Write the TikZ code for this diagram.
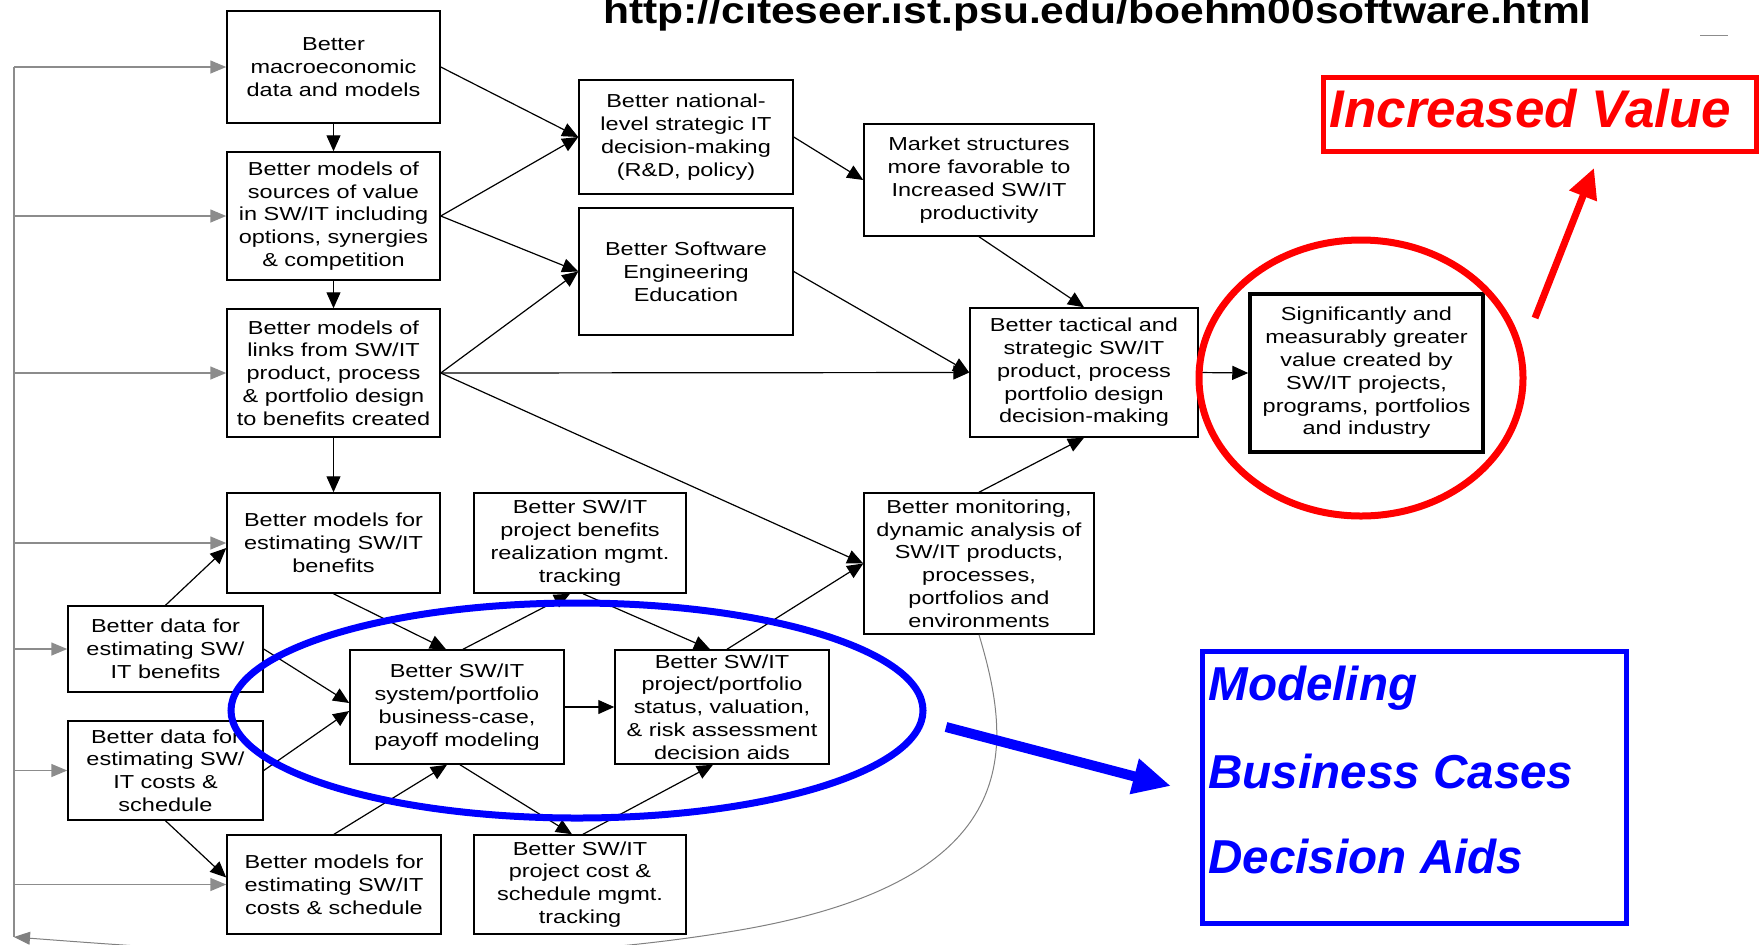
\documentclass[tikz,border=0pt]{standalone}
\usepackage{fontspec}
\usetikzlibrary{arrows.meta,calc,shapes.geometric}
\newfontfamily\boxfont[FakeStretch=1.25]{Liberation Sans}
\newfontfamily\urlfont[FakeStretch=1.15]{Liberation Sans}
\newfontfamily\callfont{Liberation Sans}

\begin{document}
\begin{tikzpicture}[x=0.5pt,y=-0.5pt,
  cell/.style 2 args={draw, line width=0.75pt, inner sep=0pt, align=center,
    minimum width=#1*0.5pt, minimum height=#2*0.5pt,
    font=\boxfont\fontsize{9.4pt}{11.4pt}\selectfont},
  arr/.style={line width=0.6pt, -{Triangle[length=8pt,width=7pt]}},
  fbline/.style={draw=black!45, line width=0.75pt},
  fbarrow/.style={fbline, -{Triangle[length=8pt,width=6.5pt]}},
  calltext/.style={anchor=base west, inner sep=0pt,
    font=\callfont\bfseries\itshape\fontsize{#1}{#1}\selectfont},
]
\useasboundingbox (0,0) rectangle (1760,944);
\clip (0,0) rectangle (1760,944);

% title
\node[anchor=base west, inner sep=0pt,
  font=\urlfont\bfseries\fontsize{18.5pt}{20pt}\selectfont] (url) at (603,23)
  {http://citeseer.ist.psu.edu/boehm00software.html};
\coordinate (mk1) at (1700,35);
\coordinate (mk2) at (1728,35);
\draw[black!45, line width=0.5pt] (mk1) -- (mk2);

% value-model boxes
\node[cell={213}{112}] (A) at (333.5,67) {Better\\macroeconomic\\data and models};
\node[cell={213}{128}] (B) at (333.5,216) {Better models of\\sources of value\\in SW/IT including\\options, synergies\\\& competition};
\node[cell={213}{128}] (C) at (333.5,373) {Better models of\\links from SW/IT\\product, process\\\& portfolio design\\to benefits created};
\node[cell={213}{100}] (D) at (333.5,543) {Better models for\\estimating SW/IT\\benefits};
\node[cell={195}{86}] (E) at (165.5,649) {Better data for\\estimating SW/\\IT benefits};
\node[cell={195}{99}] (F) at (165.5,770.5) {Better data for\\estimating SW/\\IT costs \&\\schedule};
\node[cell={214}{99}] (G) at (334,884.5) {Better models for\\estimating SW/IT\\costs \& schedule};
\node[cell={214}{114}] (H) at (457,707) {Better SW/IT\\system/portfolio\\business-case,\\payoff modeling};
\node[cell={212}{100}] (I) at (580,543) {Better SW/IT\\project benefits\\realization mgmt.\\tracking};
\node[cell={212}{99}] (J) at (580,884.5) {Better SW/IT\\project cost \&\\schedule mgmt.\\tracking};
\node[cell={214}{114}] (K) at (722,707) {Better SW/IT\\project/portfolio\\status, valuation,\\\& risk assessment\\decision aids};
\node[cell={214}{114}] (L) at (686,137) {Better national-\\level strategic IT\\decision-making\\(R\&D, policy)};
\node[cell={214}{127}] (M) at (686,271.5) {Better Software\\Engineering\\Education};
\node[cell={230}{112}] (N) at (979,180) {Market structures\\more favorable to\\Increased SW/IT\\productivity};
\node[cell={228}{129}] (O) at (1084,372.5) {Better tactical and\\strategic SW/IT\\product, process\\portfolio design\\decision-making};
\node[cell={230}{141}] (P) at (979,563.5) {Better monitoring,\\dynamic analysis of\\SW/IT products,\\processes,\\portfolios and\\environments};
\node[cell={233}{158}, line width=1.75pt] (Q) at (1366.5,373) {Significantly and\\measurably greater\\value created by\\SW/IT projects,\\programs, portfolios\\and industry};

% dependency links
\draw[arr] (A.south) -- (B.north);
\draw[arr] (B.south) -- (C.north);
\draw[arr] (C.south) -- (D.north);
\draw[arr] (A.east) -- (L.west);
\draw[arr] (B.east) -- (L.west);
\draw[arr] (B.east) -- (M.west);
\draw[arr] (C.east) -- (M.west);
\draw[arr] (C.east) -- (O.west);
\draw[arr] (C.east) -- (P.west);
\draw[arr] (M.east) -- (O.west);
\draw[arr] (L.east) -- (N.west);
\draw[arr] (N.south) -- (O.north);
\draw[arr] (P.north) -- (O.south);
\draw[arr] (O.east) -- (Q.west);
\draw[arr] (E.north) -- ($(D.west)+(0,5)$);
\draw[arr] (E.east) -- ($(H.west)+(0,-4)$);
\draw[arr] (F.east) -- ($(H.west)+(0,4)$);
\draw[arr] (F.south) -- ($(G.west)+(0,-7)$);
\draw[arr] (D.south) -- ($(H.north)+(-11,0)$);
\draw[arr] ($(H.north)+(6,0)$) -- ($(I.south)+(-10,0)$);
\draw[arr] ($(I.south)+(3,0)$) -- ($(K.north)+(-12,0)$);
\draw[arr] ($(K.north)+(5,0)$) -- (P.west);
\draw[arr] (H.east) -- (K.west);
\draw[arr] (G.north) -- ($(H.south)+(-10,0)$);
\draw[arr] ($(H.south)+(3,0)$) -- ($(J.north)+(-8,0)$);
\draw[arr] ($(J.north)+(3,0)$) -- ($(K.south)+(-9,0)$);

% feedback loop
\coordinate (spinetop) at (14,67);
\coordinate (spinebot) at (14,937);
\draw[fbline] (spinetop) -- (spinebot);
\foreach \b in {A,B,C,D,E,F,G}
  \draw[fbarrow] (\b.west -| spinetop) -- (\b.west);
\draw[draw=black!50, line width=0.5pt, -{Triangle[length=8pt,width=6.5pt]}]
  (P.south) .. controls (1012,745) and (1030,880) .. (740,930)
  .. controls (500,971) and (250,955) .. (spinebot);

% highlights
\node[ellipse, draw=blue, line width=3.5pt, inner sep=0pt,
  minimum width=346pt, minimum height=107.5pt] (focus) at (577,710.5) {};
\node[ellipse, draw=red, line width=3.5pt, inner sep=0pt,
  minimum width=162pt, minimum height=138pt] (goal) at (1361,378) {};

\node[draw=red, line width=2.5pt, inner sep=0pt,
  minimum width=216.25pt, minimum height=37pt] (valbox) at (1539.75,114.5) {};
\node[calltext=26.5pt, text=red] (valtext) at (1329,127) {Increased Value};
\coordinate (ra1) at (1535,318);
\coordinate (ra2) at (1594,168);
\draw[red, line width=3.5pt, -{Triangle[length=15pt,width=14pt]}] (ra1) -- (ra2);

\node[draw=blue, line width=2.5pt, inner sep=0pt,
  minimum width=212pt, minimum height=136pt] (aidbox) at (1414,787.5) {};
\node[calltext=23.8pt, text=blue] (t1) at (1208,700) {Modeling};
\node[calltext=23.8pt, text=blue] (t2) at (1208,788) {Business Cases};
\node[calltext=23.8pt, text=blue] (t3) at (1208,873) {Decision Aids};
\coordinate (ba1) at (946,727);
\coordinate (ba2) at (1171,786);
\draw[blue, line width=5pt, -{Triangle[length=19pt,width=17pt]}] (ba1) -- (ba2);
\end{tikzpicture}
\end{document}
